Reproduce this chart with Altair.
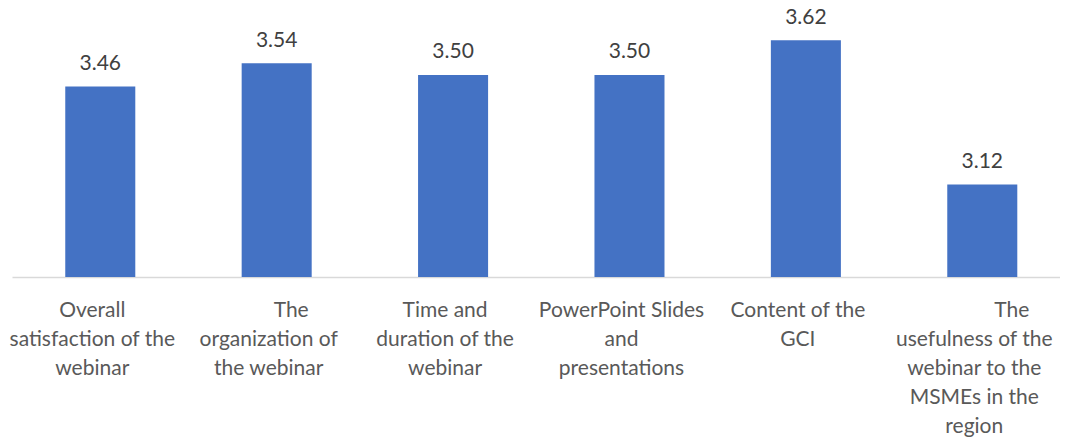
import altair as alt
import pandas as pd

BL = "\u2800"
categories = [
    "Overall|satisfaction of the|webinar",
    BL * 3 + "The|organization of|the webinar",
    "Time and|duration of the|webinar",
    "PowerPoint Slides|and|presentations",
    "Content of the|GCI",
    BL * 5 + "The|usefulness of the|webinar to the|MSMEs in the|region",
]
scores = [3.46, 3.54, 3.50, 3.50, 3.62, 3.12]
score_labels = ["3.46", "3.54", "3.50", "3.50", "3.62", "3.12"]
axis_min = 2.8

df = pd.DataFrame({"cat": categories, "score": scores, "lbl": score_labels})

FONT = "Lato"

x = alt.X(
    "cat:N",
    sort=categories,
    title=None,
    scale=alt.Scale(paddingInner=0.603, paddingOuter=0.272, align=0.555),
    axis=alt.Axis(
        labelExpr="split(datum.label, '|')",
        labelAngle=0,
        labelFont=FONT,
        labelFontSize=21,
        labelColor="#595959",
        labelLineHeight=29,
        labelBaseline="alphabetic",
        labelPadding=39,
        labelOffset=-8,
        labelLimit=0,
        labelOverlap=False,
        ticks=False,
        domainColor="#d9d9d9",
        domainWidth=1.5,
    ),
)
y = alt.Y("score:Q", scale=alt.Scale(domain=[axis_min, 3.711], zero=False, nice=False), axis=None)

bars = alt.Chart(df).mark_bar(color="#4472C4").encode(x=x, y=y, y2=alt.datum(axis_min))
texts = alt.Chart(df).mark_text(
    font=FONT, fontSize=21, color="#404040", baseline="alphabetic", dy=-16.5
).encode(x=alt.X("cat:N", sort=categories), y="score:Q", text="lbl:N")

chart = (
    alt.layer(bars, texts)
    .properties(
        width=1048,
        height=263,
        autosize=alt.AutoSizeParams(type="none"),
        padding={"left": 4, "top": 6, "right": 0, "bottom": 160},
    )
    .configure_view(stroke=None)
)

chart.save("out.html", embed_options={"renderer": "svg", "actions": False})
